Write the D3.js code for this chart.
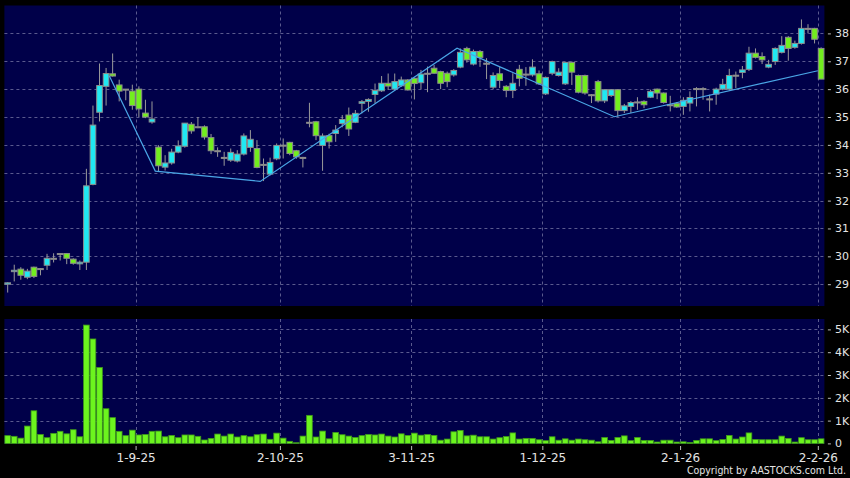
<!DOCTYPE html>
<html>
<head>
<meta charset="utf-8">
<script src="https://cdn.jsdelivr.net/npm/d3@7"></script>
<style>
  html, body { margin: 0; padding: 0; background: #000; }
  svg { display: block; }
  text { font-family: "DejaVu Sans", sans-serif; }
</style>
</head>
<body>
<div id="chart"></div>
<script>
// daily candles, left to right
const opens = [29.00, 29.45, 29.54, 29.25, 29.61, 29.56, 29.68, 29.93, 30.10, 30.10,
  29.90, 29.73, 29.79, 32.58, 35.17, 36.10, 36.55, 36.15, 36.00, 35.93,
  36.00, 35.14, 34.82, 33.92, 33.20, 33.35, 33.74, 33.95, 34.74, 34.65,
  34.65, 34.26, 33.79, 33.55, 33.45, 33.42, 33.67, 33.91, 33.87, 33.30,
  32.95, 33.50, 33.99, 34.09, 33.79, 33.55, 34.81, 34.83, 33.98, 34.33,
  34.41, 34.77, 35.07, 34.81, 35.49, 35.56, 35.81, 35.94, 36.21, 36.00,
  36.12, 36.33, 36.39, 36.23, 36.57, 36.75, 36.63, 36.57, 36.51, 36.79,
  37.46, 36.90, 37.35, 36.93, 36.07, 36.55, 36.10, 35.95, 36.71, 36.54,
  36.51, 36.55, 35.83, 36.57, 36.49, 36.19, 36.96, 36.49, 36.49, 35.80,
  36.27, 35.58, 35.77, 35.98, 35.23, 35.38, 35.54, 35.56, 35.71, 36.00,
  35.86, 35.44, 35.48, 35.38, 35.50, 36.02, 36.02, 35.65, 35.82, 36.00,
  36.00, 36.50, 36.60, 36.71, 37.29, 37.17, 36.79, 36.99, 37.32, 37.86,
  37.50, 37.64, 38.18, 38.18, 37.46]
const highs = [29.07, 29.70, 29.61, 29.55, 29.63, 29.58, 30.09, 30.11, 30.10, 30.12,
  29.93, 29.85, 33.14, 35.41, 36.92, 36.76, 37.28, 36.34, 36.00, 36.16,
  36.10, 35.62, 35.56, 33.99, 33.63, 33.86, 34.16, 34.78, 34.82, 35.00,
  34.70, 34.39, 33.91, 33.75, 33.87, 33.81, 34.41, 34.53, 34.17, 33.51,
  33.54, 34.05, 34.23, 34.11, 33.82, 33.57, 35.51, 34.86, 34.41, 34.40,
  34.71, 35.07, 35.34, 35.25, 35.61, 35.67, 36.20, 36.47, 36.56, 36.56,
  36.45, 36.36, 36.41, 36.69, 36.81, 36.87, 36.66, 36.63, 36.72, 37.46,
  37.52, 37.42, 37.40, 37.11, 36.60, 36.79, 36.14, 36.57, 36.87, 36.79,
  37.07, 36.67, 36.45, 37.02, 36.75, 36.98, 36.99, 36.52, 36.52, 35.82,
  36.33, 35.98, 36.00, 36.00, 35.47, 35.57, 35.71, 35.60, 35.98, 36.02,
  35.88, 35.76, 35.53, 35.71, 35.92, 36.07, 36.07, 35.80, 36.05, 36.37,
  36.73, 36.63, 36.83, 37.52, 37.46, 37.32, 37.05, 37.50, 37.90, 37.90,
  37.74, 38.50, 38.33, 38.20, 37.50]
const lows = [28.70, 29.10, 29.16, 29.18, 29.22, 29.32, 29.51, 29.78, 29.85, 29.72,
  29.70, 29.51, 29.51, 32.55, 34.84, 35.41, 36.45, 35.56, 35.60, 35.26,
  35.00, 34.96, 34.76, 33.06, 33.08, 33.29, 33.70, 33.90, 34.40, 34.60,
  34.19, 33.67, 33.57, 33.25, 33.39, 33.37, 33.62, 33.75, 33.16, 32.70,
  32.90, 33.45, 33.51, 33.63, 33.50, 33.19, 34.63, 34.17, 33.07, 33.87,
  34.11, 34.63, 34.32, 34.78, 35.13, 35.19, 35.49, 35.90, 35.97, 35.95,
  36.08, 35.95, 35.63, 36.00, 35.89, 36.55, 36.00, 36.07, 36.45, 36.75,
  36.95, 36.85, 36.80, 36.36, 36.00, 36.04, 35.71, 35.68, 36.10, 36.12,
  36.45, 36.15, 35.79, 36.50, 36.45, 36.15, 36.15, 35.85, 35.80, 35.50,
  35.52, 35.50, 35.72, 35.01, 35.14, 35.14, 35.26, 35.32, 35.68, 35.64,
  35.48, 35.20, 35.33, 35.08, 35.20, 35.38, 35.62, 35.20, 35.44, 35.96,
  35.95, 36.04, 36.39, 36.65, 37.10, 36.90, 36.75, 36.87, 37.28, 37.02,
  37.45, 37.60, 38.00, 37.64, 36.36]
const closes = [29.05, 29.50, 29.32, 29.47, 29.28, 29.56, 29.93, 29.93, 30.10, 29.93,
  29.75, 29.79, 32.53, 34.71, 36.13, 36.56, 36.47, 35.93, 36.00, 35.41,
  35.29, 35.00, 34.93, 33.25, 33.35, 33.74, 33.96, 34.78, 34.50, 34.65,
  34.28, 33.79, 33.79, 33.55, 33.73, 33.67, 34.32, 34.20, 33.19, 33.30,
  33.37, 33.98, 33.99, 33.69, 33.57, 33.55, 34.81, 34.33, 34.32, 34.11,
  34.53, 34.91, 34.57, 35.13, 35.55, 35.63, 35.95, 36.21, 36.11, 36.27,
  36.33, 35.97, 36.20, 36.54, 36.57, 36.57, 36.21, 36.27, 36.67, 37.32,
  37.05, 37.35, 37.14, 36.93, 36.49, 36.31, 35.95, 36.21, 36.39, 36.54,
  36.79, 36.19, 36.42, 36.99, 36.61, 36.96, 36.61, 35.89, 35.86, 35.80,
  35.58, 35.98, 35.98, 35.23, 35.40, 35.52, 35.54, 35.44, 35.92, 35.86,
  35.52, 35.44, 35.36, 35.60, 35.70, 36.02, 36.02, 35.65, 36.00, 36.17,
  36.49, 36.50, 36.69, 37.29, 37.14, 37.05, 36.89, 37.46, 37.57, 37.46,
  37.64, 38.18, 38.18, 37.79, 36.36]
// volume, thousands
const volumes = [0.34, 0.31, 0.23, 0.76, 1.43, 0.39, 0.25, 0.44, 0.53, 0.42,
  0.60, 0.29, 5.19, 4.58, 3.33, 1.52, 1.13, 0.53, 0.34, 0.58,
  0.37, 0.39, 0.53, 0.54, 0.29, 0.35, 0.25, 0.37, 0.37, 0.31,
  0.15, 0.22, 0.41, 0.32, 0.41, 0.28, 0.34, 0.29, 0.38, 0.41,
  0.18, 0.45, 0.23, 0.09, 0.03, 0.32, 1.23, 0.28, 0.54, 0.20,
  0.48, 0.38, 0.32, 0.26, 0.34, 0.39, 0.37, 0.41, 0.32, 0.28,
  0.42, 0.35, 0.45, 0.36, 0.39, 0.35, 0.14, 0.19, 0.51, 0.57,
  0.33, 0.36, 0.29, 0.29, 0.19, 0.25, 0.30, 0.46, 0.19, 0.22,
  0.22, 0.16, 0.12, 0.29, 0.14, 0.20, 0.14, 0.19, 0.16, 0.14,
  0.07, 0.26, 0.13, 0.26, 0.33, 0.12, 0.26, 0.13, 0.13, 0.06,
  0.14, 0.14, 0.06, 0.07, 0.04, 0.13, 0.20, 0.20, 0.12, 0.17,
  0.35, 0.19, 0.28, 0.46, 0.17, 0.16, 0.16, 0.16, 0.32, 0.22,
  0.06, 0.25, 0.16, 0.16, 0.20]

// blue trend line: candle index and price
const trendIdx = [16, 23, 39, 69, 93, 124]
const trendVal = [36.47, 33.06, 32.69, 37.47, 35.01, 36.66]

// x labels
const tickIdx = [20, 42, 62, 82, 103, 124]
const tickLabels = ["1-9-25", "2-10-25", "3-11-25", "1-12-25", "2-1-26", "2-2-26"]
const priceTicks = [29, 30, 31, 32, 33, 34, 35, 36, 37, 38]
const volTicks = [0, 1, 2, 3, 4, 5]

const W = 850, H = 478
const plotL = 4.4, plotR = 824.4
const priceTop = 5.5, priceBot = 306
const volTop = 319, volBot = 444

const N = closes.length
const data = closes.map((c, i) => ({ i, o: opens[i], h: highs[i], l: lows[i], c, v: volumes[i] }))

let svg = d3.select("#chart").append("svg")
  .attr("width", W)
  .attr("height", H)

svg.append("rect").attr("width", W).attr("height", H).attr("fill", "#000")

/* scales */
let x = d3.scaleLinear().domain([0, N]).range([plotL, plotR])
let step = x(1) - x(0)
let y = d3.scaleLinear().domain([29, 38]).range([284.2, 33.4])
let yv = d3.scaleLinear().domain([0, 5]).range([443.4, 329.4])

/* panels */
svg.append("rect")
  .attr("x", plotL).attr("y", priceTop)
  .attr("width", plotR - plotL).attr("height", priceBot - priceTop)
  .attr("fill", "#000049")
svg.append("rect")
  .attr("x", plotL).attr("y", volTop)
  .attr("width", plotR - plotL).attr("height", volBot - volTop)
  .attr("fill", "#000049")

/* grid */
let grid = svg.append("g")
  .attr("stroke", "#5a5a8e")
  .attr("stroke-width", 1)
  .attr("stroke-dasharray", "3,3")

grid.selectAll(".hp").data(priceTicks).enter().append("line")
  .attr("x1", plotL).attr("x2", plotR)
  .attr("y1", d => Math.round(y(d)) + 0.5).attr("y2", d => Math.round(y(d)) + 0.5)
grid.selectAll(".hv").data(volTicks.slice(1)).enter().append("line")
  .attr("x1", plotL).attr("x2", plotR)
  .attr("y1", d => Math.round(yv(d)) + 0.5).attr("y2", d => Math.round(yv(d)) + 0.5)
grid.selectAll(".vp").data(tickIdx).enter().append("line")
  .attr("x1", d => Math.round(x(d)) + 0.5).attr("x2", d => Math.round(x(d)) + 0.5)
  .attr("y1", priceTop).attr("y2", priceBot)
grid.selectAll(".vv").data(tickIdx).enter().append("line")
  .attr("x1", d => Math.round(x(d)) + 0.5).attr("x2", d => Math.round(x(d)) + 0.5)
  .attr("y1", volTop).attr("y2", volBot)

/* candles */
const upFill = "#20e8f2", downFill = "#72ee1e", edge = "#8c8c8c"
let bodyW = step - 0.9

let candles = svg.append("g").attr("id", "candles")

candles.selectAll("line.wick").data(data).enter().append("line")
  .attr("class", "wick")
  .attr("x1", d => x(d.i + 0.5)).attr("x2", d => x(d.i + 0.5))
  .attr("y1", d => y(d.h)).attr("y2", d => y(d.l))
  .attr("stroke", "#9a9a9a").attr("stroke-width", 1)

candles.selectAll("rect.body").data(data).enter().append("rect")
  .attr("class", "body")
  .attr("x", d => x(d.i + 0.5) - bodyW / 2)
  .attr("y", d => y(Math.max(d.o, d.c)))
  .attr("width", bodyW)
  .attr("height", d => Math.max(1, Math.abs(y(d.o) - y(d.c))))
  .attr("fill", d => d.c > d.o ? upFill : (d.c < d.o ? downFill : edge))
  .attr("stroke", edge)
  .attr("stroke-width", 1)

/* trend line */
let trend = trendIdx.map((d, k) => ({ i: d, v: trendVal[k] }))
svg.append("path")
  .datum(trend)
  .attr("d", d3.line().x(d => x(d.i)).y(d => y(d.v)))
  .attr("fill", "none")
  .attr("stroke", "#4aa6e6")
  .attr("stroke-width", 1.2)

/* volume bars */
svg.append("g").attr("id", "vol")
  .selectAll("rect").data(data).enter().append("rect")
  .attr("x", d => x(d.i + 0.5) - bodyW / 2)
  .attr("y", d => yv(d.v))
  .attr("width", bodyW)
  .attr("height", d => yv(0) - yv(d.v))
  .attr("fill", "#6cf41e")
  .attr("stroke", "#3f9a1a")
  .attr("stroke-width", 0.8)

/* axes */
function styleAxis(g, size) {
  g.select(".domain").remove()
  g.selectAll(".tick line").attr("stroke", "#bbbbbb")
  g.selectAll(".tick text")
    .attr("fill", "#e4e4e4")
    .style("font-size", size + "px")
    .style("font-family", "DejaVu Sans, sans-serif")
}

svg.append("g")
  .attr("transform", `translate(${plotR + 3.5},0)`)
  .call(d3.axisRight(y).tickValues(priceTicks).tickSize(3).tickPadding(4).tickFormat(d3.format("d")))
  .call(g => styleAxis(g, 11))

svg.append("g")
  .attr("transform", `translate(${plotR + 3.5},0)`)
  .call(d3.axisRight(yv).tickValues(volTicks).tickSize(3).tickPadding(4)
    .tickFormat(d => d === 0 ? "0" : d + "K"))
  .call(g => styleAxis(g, 11))

svg.append("g")
  .attr("transform", `translate(0,${volBot + 2})`)
  .call(d3.axisBottom(x).tickValues(tickIdx).tickSize(4).tickPadding(3)
    .tickFormat((d, k) => tickLabels[k]))
  .call(g => styleAxis(g, 12))

svg.append("text")
  .attr("x", 846)
  .attr("y", 474)
  .attr("text-anchor", "end")
  .attr("fill", "#e4e4e4")
  .style("font-family", "'DejaVu Sans Condensed', 'DejaVu Sans', sans-serif")
  .style("font-stretch", "condensed")
  .style("font-size", "10.5px")
  .text("Copyright by AASTOCKS.com Ltd.")
</script>
</body>
</html>
